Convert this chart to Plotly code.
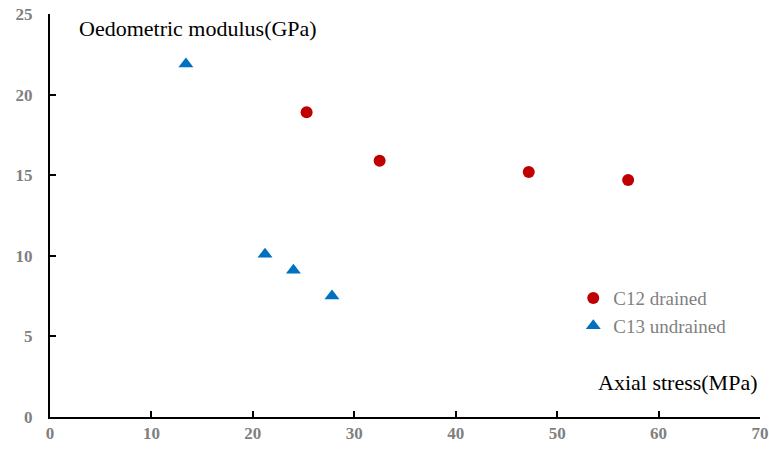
import plotly.graph_objects as go

c12_x = [25.3, 32.5, 47.2, 57.0]
c12_y = [18.9, 15.9, 15.2, 14.7]
c13_x = [13.4, 21.2, 24.0, 27.8]
c13_y = [21.9, 10.1, 9.1, 7.5]
x_ticks = [0, 10, 20, 30, 40, 50, 60, 70]
y_ticks = [0, 5, 10, 15, 20, 25]

fig = go.Figure()
fig.add_trace(go.Scatter(x=c12_x, y=c12_y, mode="markers", name="C12 drained",
                         marker=dict(symbol="circle", size=12, color="#C00000")))
fig.add_trace(go.Scatter(x=c13_x, y=c13_y, mode="markers", name="C13 undrained",
                         marker=dict(symbol="triangle-up", size=13, color="#0070C0")))

tickfont = dict(family="Liberation Serif", size=17, color="#7f7f7f", weight="bold")
fig.update_layout(
    width=769, height=452,
    margin=dict(l=50, r=9, t=14, b=35),
    paper_bgcolor="white", plot_bgcolor="white",
    font=dict(family="Liberation Serif"),
    showlegend=True,
    legend=dict(x=0.737, y=0.342, xanchor="left", yanchor="top",
                font=dict(family="Liberation Serif", size=19, color="#7f7f7f"),
                bgcolor="rgba(0,0,0,0)", itemwidth=30, tracegroupgap=0),
    xaxis=dict(range=[0, 70], tickvals=x_ticks, showgrid=False, zeroline=False,
               showline=True, linecolor="black", linewidth=2, automargin=False,
               ticks="inside", ticklen=6, tickwidth=1.5, tickcolor="black",
               tickfont=tickfont, ticklabeloverflow="allow"),
    yaxis=dict(range=[0, 25], tickvals=y_ticks, showgrid=False, zeroline=False,
               showline=True, linecolor="black", linewidth=2, automargin=False,
               ticks="inside", ticklen=6, tickwidth=1.5, tickcolor="black",
               tickfont=tickfont, ticklabelstandoff=12, ticklabeloverflow="allow"),
    annotations=[
        dict(text="Oedometric modulus(GPa)", xref="paper", yref="paper",
             x=0.038, y=0.963, xanchor="left", yanchor="middle", showarrow=False,
             font=dict(family="Liberation Serif", size=22, color="black")),
        dict(text="Axial stress(MPa)", xref="paper", yref="paper",
             x=0.998, y=0.085, xanchor="right", yanchor="middle", showarrow=False,
             font=dict(family="Liberation Serif", size=22, color="black")),
    ],
)
fig.write_html("out.html", config={"displayModeBar": False},
               post_script="document.body.style.margin='0';")
